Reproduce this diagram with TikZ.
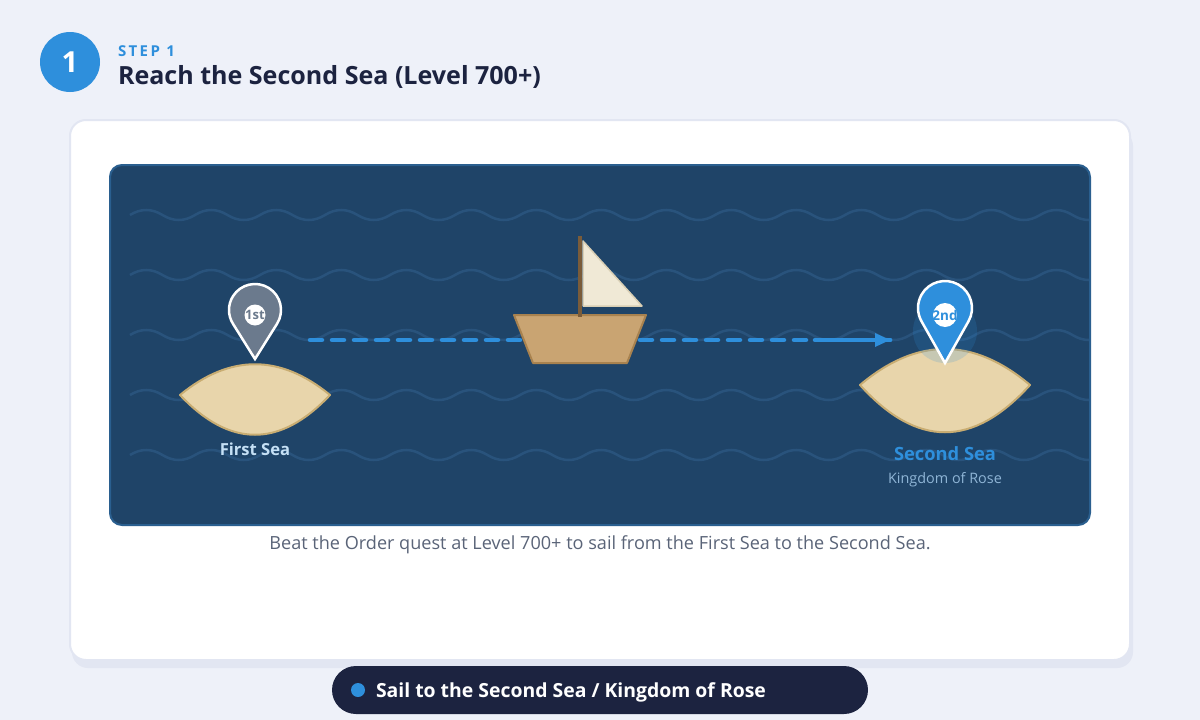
\documentclass[tikz,border=0pt]{standalone}
\usepackage{fontspec}
\setmainfont{Open Sans}
\definecolor{pagebg}{HTML}{EEF1F9}
\definecolor{cardedge}{HTML}{E2E6F2}
\definecolor{sea}{HTML}{1F4468}
\definecolor{seaedge}{HTML}{2A5F8F}
\definecolor{wave}{HTML}{29537C}
\definecolor{accent}{HTML}{2E8FDC}
\definecolor{ink}{HTML}{1C2340}
\definecolor{sand}{HTML}{E8D5AB}
\definecolor{sandedge}{HTML}{C9AD72}
\definecolor{hull}{HTML}{C9A472}
\definecolor{hulledge}{HTML}{A8824F}
\definecolor{mast}{HTML}{7A5C3A}
\definecolor{sail}{HTML}{F0E9D6}
\definecolor{sailedge}{HTML}{D9CFB5}
\definecolor{pingrey}{HTML}{6B7A8D}
\definecolor{caption}{HTML}{5A6478}
\definecolor{firstlabel}{HTML}{C5E0F5}
\definecolor{kingdom}{HTML}{8FB5D6}
\tikzset{
  x=1pt, y=-1pt,
  txt/.style={inner sep=0pt, outer sep=0pt, anchor=base},
  ltxt/.style={inner sep=0pt, outer sep=0pt, anchor=base west},
  island/.style={fill=sand, draw=sandedge, line width=2pt, line join=round},
  waveline/.style={draw=wave, line width=2.5pt},
  pin/.style={draw=white, line width=2.5pt, line join=miter},
  voyage/.style={draw=accent, line width=4.5pt, line cap=round}
}
% One sea-wave row: alternating half waves, 65 units to the full period
\newcommand{\waverow}[1]{%
  \draw[waveline] (130,#1)
    \foreach \k in {0,...,30} {
      \pgfextra{\pgfmathsetmacro{\xa}{130+32.5*\k}\pgfmathsetmacro{\sgn}{ifthenelse(mod(\k,2)==0,-1,1)}}
      .. controls (\xa+10.83,#1+\sgn*6.67) and (\xa+21.67,#1+\sgn*6.67) .. (\xa+32.5,#1)
    };
}
% Map pin: centre x, centre y, radius, tip y, fill colour
\newcommand{\mappin}[5]{%
  \pgfmathsetmacro{\pinang}{acos(#3/(#4-#2))}%
  \draw[pin, fill=#5] (#1,#4) -- ({#1+#3*sin(\pinang)},{#2+#3*cos(\pinang)})
    arc[start angle=90-\pinang, end angle=-270+\pinang, radius=#3] -- cycle;
}
\begin{document}
\begin{tikzpicture}
\useasboundingbox (0,0) rectangle (1200,720);
\fill[pagebg] (0,0) rectangle (1200,720);

% Step badge and heading
\node[circle, fill=accent, minimum size=60pt, inner sep=0pt] (badge) at (70,62) {};
\node[txt, text=white, font=\bfseries\fontsize{29}{29}\selectfont] (badgenum) at (70,72.5) {1};
\node[ltxt, text=accent, font=\bfseries\fontsize{15}{15}\selectfont\addfontfeatures{LetterSpace=16}] (steplabel) at (118,56) {STEP 1};
\node[ltxt, text=ink, font=\bfseries\fontsize{25.05}{25.05}\selectfont] (title) at (118,84) {Reach the Second Sea (Level 700+)};

% Card with its offset shadow
\fill[cardedge, rounded corners=16pt] (72,130) rectangle (1133,668);
\draw[cardedge, fill=white, line width=2pt, rounded corners=16pt] (70,120) rectangle (1130,660);

% Sea panel
\draw[seaedge, fill=sea, line width=2pt, rounded corners=12pt] (110,165) rectangle (1090,525);
\begin{scope}
  \clip (111,166) rectangle (1089,524);
  \foreach \rowy in {215,275,335,395,455} {\waverow{\rowy}}
\end{scope}

% Islands
\draw[island] (180,395) .. controls (230,354) and (280,354) .. (330,395)
              .. controls (280,448) and (230,448) .. (180,395) -- cycle;
\draw[island] (860,385) .. controls (917,337) and (973,337) .. (1030,385)
              .. controls (973,448) and (917,448) .. (860,385) -- cycle;

% Voyage line
\coordinate (voyagestart) at (310,340);
\coordinate (voyageend) at (890,340);
\coordinate (solidstart) at (815,340);
\draw[voyage, dash pattern=on 12pt off 10pt] (voyagestart) -- (voyageend);
\draw[voyage] (solidstart) -- (voyageend);
\fill[accent] (875,333) -- (890,340) -- (875,347) -- cycle;

% Boat
\draw[fill=hull, draw=hulledge, line width=2pt, line join=round] (514,315) -- (646,315) -- (627,363) -- (533,363) -- cycle;
\draw[fill=sail, draw=sailedge, line width=1.5pt, line join=round] (583,241) -- (642,306) -- (583,306) -- cycle;
\draw[mast, line width=4pt] (580,236) -- (580,317);

% First Sea pin and label
\mappin{255}{310}{26}{359}{pingrey}
\node[circle, fill=white, minimum size=21pt, inner sep=0pt] (firstdot) at (255,315) {};
\node[txt, text=pingrey, font=\bfseries\fontsize{13}{13}\selectfont] (firsttag) at (255,319.7) {1st};
\node[txt, text=firstlabel, font=\bfseries\fontsize{16.6}{16.6}\selectfont] (firstname) at (255,455) {First Sea};

% Second Sea highlight, pin and labels
\fill[accent, opacity=.18] (945,331) circle[radius=32];
\mappin{945}{308}{27}{363}{accent}
\node[circle, fill=white, minimum size=24pt, inner sep=0pt] (seconddot) at (945,315) {};
\node[txt, text=accent, font=\bfseries\fontsize{13.5}{13.5}\selectfont] (secondtag) at (945,320) {2nd};
\node[txt, text=accent, font=\bfseries\fontsize{18.3}{18.3}\selectfont] (secondname) at (945,460) {Second Sea};
\node[txt, text=kingdom, font=\fontsize{14.4}{14.4}\selectfont] (kingdomname) at (945,483) {Kingdom of Rose};

% Caption
\node[txt, text=caption, font=\fontsize{18.1}{18.1}\selectfont] (captiontext) at (600,549) {Beat the Order quest at Level 700+ to sail from the First Sea to the Second Sea.};

% Result pill
\fill[ink, rounded corners=24pt] (332,666) rectangle (868,714);
\fill[accent] (358,690) circle[radius=7];
\node[ltxt, text=white, font=\bfseries\fontsize{19.4}{19.4}\selectfont] (pilltext) at (376,697) {Sail to the Second Sea / Kingdom of Rose};
\end{tikzpicture}
\end{document}
